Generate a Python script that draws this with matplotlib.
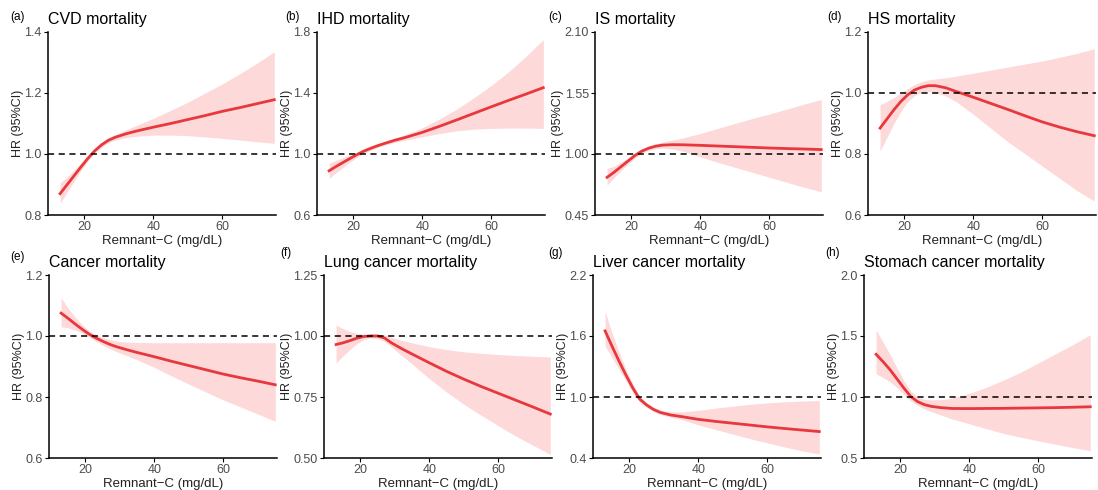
import matplotlib
matplotlib.use('Agg')
import matplotlib.pyplot as plt

plt.rcParams['font.family'] = ['Liberation Sans', 'DejaVu Sans']

# Remnant-C grid (mg/dL)
remnant_c = [13, 15, 17, 19, 21, 23, 25, 27, 29, 32, 35, 40, 45, 50, 55, 60, 65, 70, 75]

titles = ['CVD mortality', 'IHD mortality', 'IS mortality', 'HS mortality',
          'Cancer mortality', 'Lung cancer mortality', 'Liver cancer mortality',
          'Stomach cancer mortality']
panel_tags = ['(a)', '(b)', '(c)', '(d)', '(e)', '(f)', '(g)', '(h)']

# y ticks per panel
yticks_a = [0.8, 1.0, 1.2, 1.4]
yticks_b = [0.6, 1.0, 1.4, 1.8]
yticks_c = [0.45, 1.00, 1.55, 2.10]
yticks_d = [0.6, 0.8, 1.0, 1.2]
yticks_e = [0.6, 0.8, 1.0, 1.2]
yticks_f = [0.50, 0.75, 1.00, 1.25]
yticks_g = [0.4, 1.0, 1.6, 2.2]
yticks_h = [0.5, 1.0, 1.5, 2.0]
ytick_fmt = ['%.1f', '%.1f', '%.2f', '%.1f', '%.1f', '%.2f', '%.1f', '%.1f']

# hazard ratios and 95% CI
hr_a = [0.870, 0.899, 0.928, 0.957, 0.985, 1.010, 1.030, 1.045, 1.055, 1.066, 1.075, 1.088, 1.100, 1.113, 1.126, 1.140, 1.152, 1.165, 1.178]
lo_a = [0.838, 0.874, 0.910, 0.945, 0.977, 1.003, 1.022, 1.037, 1.046, 1.054, 1.058, 1.062, 1.062, 1.060, 1.056, 1.051, 1.046, 1.040, 1.035]
hi_a = [0.905, 0.925, 0.947, 0.970, 0.994, 1.018, 1.038, 1.054, 1.064, 1.079, 1.093, 1.117, 1.143, 1.170, 1.200, 1.230, 1.263, 1.298, 1.335]

hr_b = [0.890, 0.918, 0.944, 0.970, 0.995, 1.018, 1.037, 1.054, 1.069, 1.090, 1.108, 1.142, 1.182, 1.224, 1.267, 1.310, 1.352, 1.393, 1.435]
lo_b = [0.840, 0.878, 0.912, 0.946, 0.978, 1.004, 1.024, 1.042, 1.057, 1.076, 1.091, 1.113, 1.134, 1.152, 1.163, 1.168, 1.170, 1.170, 1.168]
hi_b = [0.940, 0.958, 0.976, 0.994, 1.012, 1.032, 1.050, 1.066, 1.081, 1.104, 1.126, 1.172, 1.230, 1.295, 1.370, 1.450, 1.540, 1.640, 1.750]

hr_c = [0.790, 0.835, 0.885, 0.935, 0.985, 1.025, 1.052, 1.070, 1.080, 1.084, 1.083, 1.078, 1.072, 1.066, 1.060, 1.054, 1.049, 1.045, 1.040]
lo_c = [0.720, 0.785, 0.848, 0.907, 0.962, 1.005, 1.032, 1.048, 1.053, 1.045, 1.025, 0.975, 0.925, 0.880, 0.835, 0.790, 0.745, 0.700, 0.660]
hi_c = [0.870, 0.890, 0.925, 0.965, 1.008, 1.045, 1.072, 1.092, 1.107, 1.125, 1.145, 1.185, 1.230, 1.275, 1.320, 1.360, 1.405, 1.450, 1.490]

hr_d = [0.885, 0.915, 0.945, 0.972, 0.994, 1.010, 1.019, 1.024, 1.024, 1.017, 1.005, 0.986, 0.966, 0.946, 0.925, 0.905, 0.888, 0.873, 0.860]
lo_d = [0.810, 0.855, 0.900, 0.940, 0.972, 0.992, 1.002, 1.005, 1.002, 0.990, 0.972, 0.930, 0.885, 0.840, 0.800, 0.760, 0.720, 0.680, 0.646]
hi_d = [0.962, 0.972, 0.985, 1.000, 1.015, 1.028, 1.037, 1.043, 1.046, 1.050, 1.055, 1.065, 1.075, 1.085, 1.095, 1.105, 1.117, 1.130, 1.145]

hr_e = [1.075, 1.058, 1.040, 1.023, 1.007, 0.994, 0.983, 0.973, 0.965, 0.955, 0.946, 0.932, 0.917, 0.903, 0.889, 0.875, 0.863, 0.852, 0.840]
lo_e = [1.030, 1.027, 1.020, 1.010, 0.997, 0.983, 0.970, 0.959, 0.949, 0.936, 0.922, 0.897, 0.869, 0.842, 0.816, 0.790, 0.767, 0.744, 0.720]
hi_e = [1.125, 1.092, 1.063, 1.038, 1.018, 1.005, 0.996, 0.988, 0.983, 0.980, 0.979, 0.978, 0.978, 0.978, 0.978, 0.978, 0.978, 0.978, 0.978]

hr_f = [0.965, 0.972, 0.981, 0.991, 0.998, 1.000, 1.000, 0.992, 0.972, 0.948, 0.926, 0.890, 0.855, 0.823, 0.793, 0.765, 0.737, 0.709, 0.680]
lo_f = [0.890, 0.918, 0.945, 0.968, 0.985, 0.992, 0.990, 0.978, 0.955, 0.920, 0.885, 0.825, 0.770, 0.720, 0.675, 0.632, 0.590, 0.552, 0.515]
hi_f = [1.045, 1.030, 1.018, 1.011, 1.008, 1.008, 1.008, 1.004, 0.995, 0.982, 0.972, 0.956, 0.944, 0.935, 0.929, 0.924, 0.920, 0.917, 0.914]

hr_g = [1.650, 1.500, 1.355, 1.218, 1.090, 0.980, 0.922, 0.878, 0.848, 0.823, 0.808, 0.780, 0.760, 0.742, 0.724, 0.706, 0.690, 0.675, 0.660]
lo_g = [1.500, 1.390, 1.275, 1.162, 1.045, 0.950, 0.898, 0.857, 0.828, 0.800, 0.780, 0.725, 0.680, 0.635, 0.590, 0.548, 0.508, 0.470, 0.440]
hi_g = [1.840, 1.630, 1.445, 1.278, 1.130, 1.010, 0.947, 0.900, 0.870, 0.855, 0.852, 0.868, 0.890, 0.910, 0.928, 0.942, 0.953, 0.960, 0.965]

hr_h = [1.350, 1.290, 1.225, 1.150, 1.075, 1.005, 0.962, 0.937, 0.923, 0.912, 0.906, 0.905, 0.906, 0.907, 0.909, 0.911, 0.913, 0.916, 0.920]
lo_h = [1.190, 1.160, 1.125, 1.077, 1.022, 0.968, 0.930, 0.903, 0.880, 0.850, 0.820, 0.780, 0.740, 0.700, 0.670, 0.640, 0.612, 0.585, 0.560]
hi_h = [1.550, 1.450, 1.350, 1.240, 1.135, 1.050, 1.000, 0.982, 0.976, 0.978, 0.990, 1.030, 1.080, 1.140, 1.205, 1.280, 1.355, 1.430, 1.510]

hr_all = [hr_a, hr_b, hr_c, hr_d, hr_e, hr_f, hr_g, hr_h]
lo_all = [lo_a, lo_b, lo_c, lo_d, lo_e, lo_f, lo_g, lo_h]
hi_all = [hi_a, hi_b, hi_c, hi_d, hi_e, hi_f, hi_g, hi_h]
yticks_all = [yticks_a, yticks_b, yticks_c, yticks_d, yticks_e, yticks_f, yticks_g, yticks_h]
xticks = [20, 40, 60]

W, H = 1098, 490
fig = plt.figure(figsize=(W / 100, H / 100), dpi=100)

# axes boxes in pixels: left, top, width, height
lefts = [48, 317, 595, 868, 49, 324, 593, 864]
tops = [32, 32, 32, 32, 275, 275, 275, 275]
ax_w, ax_h = 228, 183
tag_xy = [(10, 17), (285, 17), (548, 17), (827, 17),
          (10, 257), (280, 253), (548, 253), (825, 253)]

line_col = '#E8383D'
band_col = '#FDD9D9'

for i in range(8):
    l, t = lefts[i], tops[i]
    ax = fig.add_axes([l / W, 1 - (t + ax_h) / H, ax_w / W, ax_h / H])
    ax.fill_between(remnant_c, lo_all[i], hi_all[i], color=band_col, lw=0)
    ax.plot(remnant_c, hr_all[i], color=line_col, lw=2, solid_joinstyle='round')
    ax.axhline(1.0, color='black', ls=(0, (4, 3)), lw=1.1)
    yt = yticks_all[i]
    ax.set_ylim(yt[0], yt[-1])
    ax.set_xlim(9.5, 75.5)
    ax.set_yticks(yt)
    ax.set_yticklabels([ytick_fmt[i] % v for v in yt])
    ax.set_xticks(xticks)
    for s in ['top', 'right']:
        ax.spines[s].set_visible(False)
    for s in ['left', 'bottom']:
        ax.spines[s].set_linewidth(1.1)
    ax.tick_params(labelsize=9, colors='black', labelcolor='#4D4D4D', length=3, width=0.8, pad=1.5)
    ax.set_xlabel('Remnant\u2212C (mg/dL)', fontsize=9.5, color='#222222', labelpad=1)
    ax.set_ylabel('HR (95%CI)', fontsize=9, color='#222222', labelpad=0)
    ax.set_title(titles[i], loc='left', fontsize=11.5, pad=6)
    fig.text(tag_xy[i][0] / W, 1 - tag_xy[i][1] / H, panel_tags[i], fontsize=8.5, va='center', ha='left')

fig.savefig('out.png', dpi=100)
